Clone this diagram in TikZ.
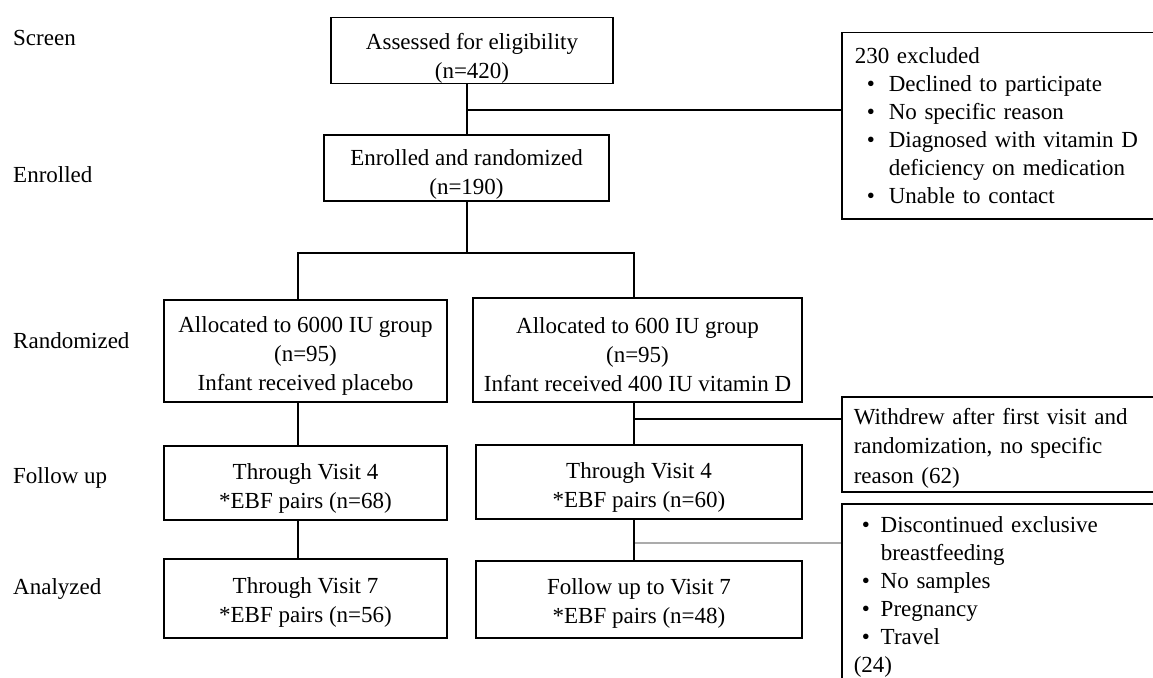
\documentclass[tikz,border=0pt]{standalone}
\usepackage{fontspec}
\setmainfont{Liberation Serif}
\newcommand\bitemA{\hspace*{12pt}\makebox[22pt][l]{\textbullet}}
\newcommand\bitemB{\hspace*{8pt}\makebox[19pt][l]{\textbullet}}
\newcommand\lift[1]{\rule{0pt}{#1}}
\begin{document}
\begin{tikzpicture}[x=1pt,y=-1pt,
  every node/.style={font=\fontsize{23}{29}\selectfont, inner sep=0pt},
  box/.style={draw, line width=1.5pt, align=center},
  sidebox/.style={draw, line width=1.5pt, align=left, anchor=north west,
    inner xsep=13pt, inner ysep=0pt, font=\fontsize{23}{28}\selectfont},
  link/.style={line width=1.5pt},
  greylink/.style={line width=2.5pt, draw=black!33},
  stage/.style={anchor=west}]
\useasboundingbox (0,0) rectangle (1153,677);
\clip (0,0) rectangle (1153,677);

% stage labels
\node[stage] (sScreen) at (13,38) {Screen};
\node[stage] (sEnrol) at (13,175) {Enrolled};
\node[stage] (sRand) at (13,341) {Randomized};
\node[stage] (sFollow) at (13,478) {Follow up};
\node[stage] (sAnal) at (13,589) {Analyzed};

% main boxes
\node[box, minimum width=282pt, minimum height=65pt] (A) at (472,50.5)
  {\lift{32pt}Assessed for eligibility\\(n=420)};
\node[box, minimum width=285pt, minimum height=66pt] (B) at (466.5,168)
  {\lift{28pt}Enrolled and randomized\\(n=190)};
\node[box, minimum width=283pt, minimum height=102pt] (RL) at (305.5,351)
  {\lift{25pt}Allocated to 6000 IU group\\(n=95)\\Infant received placebo};
\node[box, minimum width=329pt, minimum height=104pt] (RR) at (637.5,350)
  {\lift{25pt}Allocated to 600 IU group\\(n=95)\\Infant received 400 IU vitamin D};
\node[box, minimum width=283pt, minimum height=74pt] (FL) at (305.5,483)
  {\lift{26pt}Through Visit 4\\*EBF pairs (n=68)};
\node[box, minimum width=326pt, minimum height=74pt] (FR) at (639,482)
  {\lift{26pt}Through Visit 4\\*EBF pairs (n=60)};
\node[box, minimum width=283pt, minimum height=79pt] (AL) at (305.5,598.5)
  {\lift{24pt}Through Visit 7\\*EBF pairs (n=56)};
\node[box, minimum width=326pt, minimum height=77pt] (AR) at (639,599.5)
  {\lift{24pt}Follow up to Visit 7\\*EBF pairs (n=48)};

% side boxes
\node[sidebox, text width=300pt, minimum height=186pt] (excl) at (841,32)
  {230 excluded\\
   \bitemA Declined to participate\\
   \bitemA No specific reason\\
   \bitemA Diagnosed with vitamin D\\
   \hspace*{34pt}deficiency on medication\\
   \bitemA Unable to contact};
\node[sidebox, inner xsep=12pt, text width=300pt, minimum height=95pt,
  font=\fontsize{23}{29.5}\selectfont] (wd) at (841,396)
  {\lift{24pt}Withdrew after first visit and\\
   randomization, no specific\\
   reason (62)};
\node[sidebox, inner xsep=12pt, text width=300pt, minimum height=187pt] (disc) at (841,503)
  {\bitemB Discontinued exclusive\\
   \hspace*{27pt}breastfeeding\\
   \bitemB No samples\\
   \bitemB Pregnancy\\
   \bitemB Travel\\
   (24)};

% connectors
\coordinate (j1) at (467,110);
\coordinate (split) at (467,253);
\coordinate (cL) at (298,253);
\coordinate (cR) at (634,253);
\coordinate (j2) at (634,419);
\coordinate (j3) at (634,543);

\draw[link] (A.south -| j1) -- (B.north -| j1);
\draw[link] (j1) -- (excl.west |- j1);
\draw[link] (B.south -| split) -- (split);
\draw[link] (cL |- RL.north) -- (cL) -- (cR) -- (cR |- RR.north);
\draw[link] (RL.south -| cL) -- (FL.north -| cL);
\draw[link] (FL.south -| cL) -- (AL.north -| cL);
\draw[link] (RR.south -| cR) -- (FR.north -| cR);
\draw[link] (j2) -- (wd.west |- j2);
\draw[greylink] (j3) -- (disc.west |- j3);
\draw[link] (FR.south -| cR) -- (AR.north -| cR);
\end{tikzpicture}
\end{document}
